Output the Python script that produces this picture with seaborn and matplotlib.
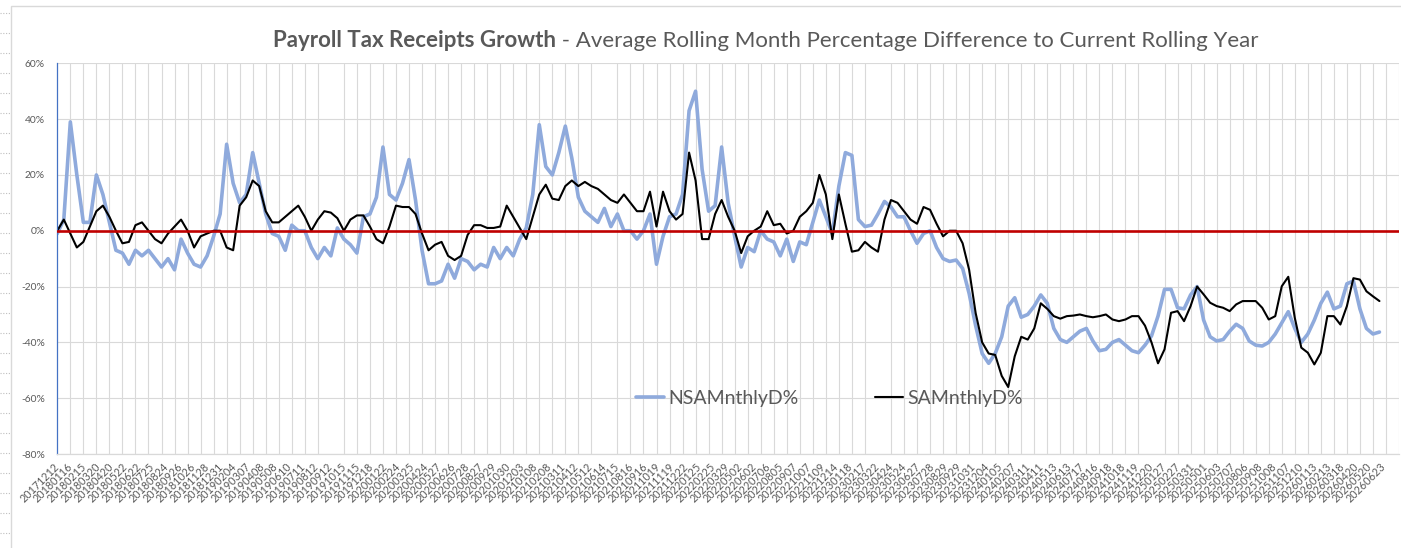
import numpy as np
import pandas as pd
import matplotlib
matplotlib.use("Agg")
import matplotlib.pyplot as plt
import seaborn as sns
from matplotlib.lines import Line2D
from matplotlib.patches import Rectangle

# ---------------- data ----------------
tick_labels = [
    "20171212", "20180116", "20180215", "20180320", "20180420", "20180522", "20180622", "20180725",
    "20180824", "20180926", "20181026", "20181128", "20181231", "20190204", "20190307", "20190408",
    "20190508", "20190610", "20190711", "20190812", "20190912", "20191015", "20191115", "20191218",
    "20200122", "20200224", "20200325", "20200424", "20200527", "20200626", "20200728", "20200827",
    "20200929", "20201030", "20201203", "20210108", "20210208", "20210311", "20210412", "20210512",
    "20210614", "20210715", "20210816", "20210916", "20211019", "20211119", "20211222", "20220125",
    "20220225", "20220329", "20220502", "20220602", "20220706", "20220805", "20220907", "20221007",
    "20221109", "20221214", "20230118", "20230217", "20230322", "20230424", "20230524", "20230627",
    "20230728", "20230829", "20230929", "20231031", "20231204", "20240105", "20240207", "20240311",
    "20240411", "20240513", "20240613", "20240717", "20240816", "20240918", "20241018", "20241119",
    "20241220", "20250127", "20250227", "20250331", "20250501", "20250603", "20250707", "20250806",
    "20250908", "20251008", "20251107", "20251210", "20260113", "20260213", "20260318", "20260420",
    "20260520", "20260623",
]

# NSAMnthlyD% (percent), read every half gridline interval
nsa = [
    -1, 4, 39, 20, 3, 3, 20, 13, 3, -7,
    -8, -12, -7, -9, -7, -10, -13, -10, -14, -3,
    -8, -12, -13, -9, -2, 6, 31, 17, 10, 13,
    28, 17, 6, -1, -2, -7, 2, 0, 0, -6,
    -10, -6, -9, 1, -3, -5, -8, 5, 6, 12,
    30, 13, 11, 17, 25.5, 11, -7, -19, -19, -18,
    -12, -17, -10, -11, -14, -12, -13, -6, -10, -6,
    -9, -3, 1, 13, 38, 23, 20, 28, 37.5, 26,
    12, 7, 5, 3, 8, 1.5, 6, 0, 0, -3,
    0, 6, -12, -2, 5, 6, 13, 43, 50, 22,
    7, 9, 30, 10, -2, -13, -6, -7.5, 0, -3,
    -4, -9, -3, -11, -4, -5, 3, 11, 5, -1,
    16, 28, 27, 4, 1.5, 2, 6, 10.5, 8.5, 5,
    5, 0, -4.5, -1, 0, -6, -10, -11, -10.5, -13.5,
    -22.5, -34, -44, -47.5, -44, -38, -27, -24, -31, -30,
    -27, -23, -26, -35, -39, -40, -38, -36, -35, -39.5,
    -43, -42.5, -40, -39, -41, -43, -43.7, -41, -37.7, -30.6,
    -21, -21, -27.6, -28, -23, -20, -32, -38, -39.5, -39,
    -36, -33.5, -35, -39.5, -41, -41.3, -40, -37, -33, -29,
    -35, -40, -37, -32, -26, -22, -28, -27, -19, -18,
    -28, -35, -37, -36.3,
]

# SAMnthlyD% (percent)
sa = [
    0, 4, -1, -6, -4, 1.5, 7, 9, 5, 0,
    -4.5, -4, 2, 3, 0, -3, -4.5, -1, 1.5, 4,
    0, -6, -2, -1, 0, 0, -6, -7, 9, 12,
    18, 16, 7, 3, 3, 5, 7, 9, 5, 0,
    4, 7, 6.5, 4.5, 0, 4, 5.5, 5.5, 1.5, -3,
    -4.5, 1.5, 9, 8.5, 8.5, 6, -1, -7, -5, -4,
    -9, -10.5, -9, -1.5, 2, 2, 1, 1, 1.5, 9,
    5, 1, -3, 5, 13, 16.5, 11.5, 11, 16, 18,
    16, 17.5, 16, 15, 13, 11, 10, 13, 10, 7,
    7, 14, 1.5, 14, 7, 4, 6, 28, 18, -3,
    -3, 6, 11, 5, 0, -8, -2, 0, 1.5, 7,
    2, 2.5, -1, 0, 5, 7, 10, 20, 13, -3,
    13, 2.5, -7.5, -7, -4, -6, -7.5, 4, 11, 10,
    7, 4, 2.5, 8.5, 7.5, 2.5, -2, 0, 0, -4.5,
    -14, -29.5, -40, -44, -44.5, -52, -56, -45, -38, -39,
    -35, -26, -28, -30.6, -31.5, -30.6, -30.4, -30, -30.6, -31,
    -30.6, -30, -31.8, -32.4, -31.8, -30.6, -30.6, -34, -40, -47.5,
    -42.5, -29.4, -28.8, -32.4, -27, -20, -22.8, -25.8, -27, -27.6,
    -28.8, -26.4, -25.2, -25.2, -25.2, -27.6, -31.8, -30.6, -19.9, -16.5,
    -31.2, -41.9, -43.7, -47.9, -43.7, -30.6, -30.6, -33.6, -27, -17,
    -17.5, -21.7, -23.5, -25.2,
]

y_ticks = [-80, -60, -40, -20, 0, 20, 40, 60]
title_bold = "Payroll Tax Receipts Growth"
title_rest = " - Average Rolling Month Percentage Difference to Current Rolling Year"

# ---------------- layout / style ----------------
W, H = 1401, 548
TXT = "#595959"
GRID = "#D9D9D9"

sns.set_theme(style="white")
plt.rcParams['font.family'] = ['Lato', 'DejaVu Sans']

fig = plt.figure(figsize=(W / 100, H / 100), dpi=100)
fig.patch.set_facecolor("white")

# spreadsheet surroundings: chart-area border and dotted cell lines at left
fig.add_artist(Rectangle((11 / W, -0.01), 1.0, (548 - 6) / H + 0.01, transform=fig.transFigure,
                         fill=False, edgecolor=GRID, lw=1.0))
for yy in np.arange(13.3, H, 20):
    fig.add_artist(Line2D([0, 10 / W], [1 - yy / H, 1 - yy / H], transform=fig.transFigure,
                          color="#BFBFBF", lw=0.8, ls=(0, (1, 1.5))))

ax_left, ax_right, ax_top, ax_bot = 57.3, 1399.0, 63.3, 454.0
ax = fig.add_axes([ax_left / W, 1 - ax_bot / H, (ax_right - ax_left) / W, (ax_bot - ax_top) / H])
ax.set_facecolor("white")

step = 0.5                     # half a gridline interval per reading
pos = np.arange(len(nsa)) * step
label_pos = np.arange(len(tick_labels)) * 1.05   # a label every 21 days, a gridline every 20

df = pd.DataFrame({"pos": pos, "NSAMnthlyD%": nsa, "SAMnthlyD%": sa})

sns.lineplot(data=df, x="pos", y="NSAMnthlyD%", color="#8FAADC", lw=2.6, ax=ax,
             label="NSAMnthlyD%", zorder=2, solid_joinstyle="round", solid_capstyle="round")
sns.lineplot(data=df, x="pos", y="SAMnthlyD%", color="black", lw=1.5, ax=ax,
             label="SAMnthlyD%", zorder=2.5, solid_joinstyle="round", solid_capstyle="round")
ax.axhline(0, color="#C00000", lw=1.9, zorder=3)

ax.set_xlim(0, 103)
ax.set_ylim(-80, 60)
ax.set_xlabel("")
ax.set_ylabel("")

ax.set_xticks(np.arange(0, 104), minor=True)
ax.set_xticks(label_pos)
ax.set_xticklabels(tick_labels, rotation=45, ha="right", va="center", rotation_mode="anchor",
                   fontsize=7.8, color=TXT)
ax.set_yticks(y_ticks)
ax.set_yticklabels([f"{v}%" for v in y_ticks], fontsize=7.4, color=TXT)
ax.tick_params(axis="y", length=0, pad=9)
ax.tick_params(axis="x", which="both", length=0, pad=8)

ax.xaxis.grid(False, which="major")
ax.xaxis.grid(True, which="minor", color=GRID, lw=0.8)
ax.yaxis.grid(True, which="major", color=GRID, lw=0.8)
ax.set_axisbelow(True)

for s in ["top", "right"]:
    ax.spines[s].set_visible(False)
ax.spines["left"].set_color("#4472C4")
ax.spines["left"].set_linewidth(0.9)
ax.spines["bottom"].set_color(GRID)
ax.spines["bottom"].set_linewidth(0.9)

leg = ax.legend(ncol=2, frameon=False, loc="center left",
                bbox_to_anchor=(636 / W, 1 - 398.3 / H), bbox_transform=fig.transFigure,
                borderpad=0, borderaxespad=0, handlelength=1.45, handletextpad=0.22,
                columnspacing=3.9, fontsize=14, labelcolor=TXT)

# ---------------- title (bold + regular parts) ----------------
fs = 14.5
y_base = 1 - 46.7 / H
t1 = fig.text(0, y_base, title_bold, fontsize=fs, fontweight="bold", color=TXT, va="baseline")
t2 = fig.text(0, y_base, title_rest, fontsize=fs, color=TXT, va="baseline")
fig.canvas.draw()
r = fig.canvas.get_renderer()
w1 = t1.get_window_extent(r).width
w2 = t2.get_window_extent(r).width
target = 1258 - 274
fs2 = fs * target / (w1 + w2)
t1.set_fontsize(fs2)
t2.set_fontsize(fs2)
fig.canvas.draw()
w1 = t1.get_window_extent(r).width
w2 = t2.get_window_extent(r).width
x0 = (274 + 1258) / 2 - (w1 + w2) / 2
t1.set_x(x0 / W)
t2.set_x((x0 + w1) / W)

fig.savefig("out.png", dpi=100, facecolor="white")
